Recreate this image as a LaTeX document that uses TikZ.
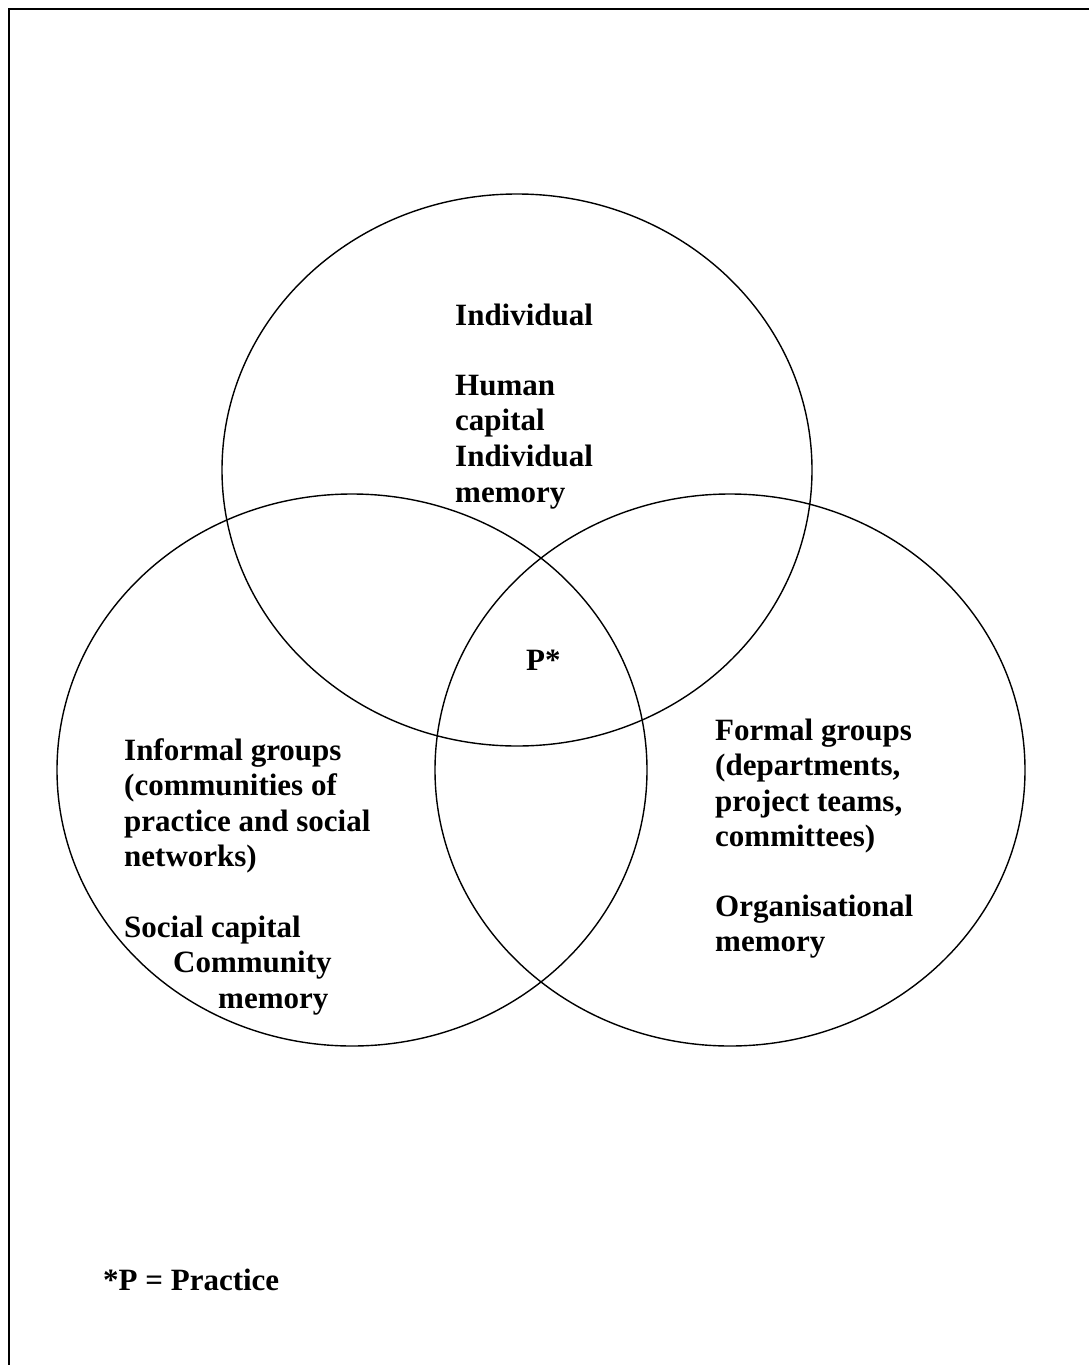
\documentclass[tikz,border=0pt]{standalone}
\usepackage{fontspec}
\setmainfont{Liberation Serif}
\usetikzlibrary{shapes.geometric}
\begin{document}
\begin{tikzpicture}[x=1pt,y=-1pt,
  ring/.style={draw, ellipse, line width=1.4pt, inner sep=0pt,
    minimum width=590pt, minimum height=552pt},
  label/.style={anchor=base west, inner sep=0pt,
    font=\fontsize{31}{35}\selectfont\bfseries}]
\useasboundingbox (0,0) rectangle (1089,1365);
% page frame (left and top edges)
\draw[line width=2pt] (9,1380) |- (1100,9);

% the three overlapping domains
\node[ring] (indiv) at (517,470) {};
\node[ring] (informal) at (352,770) {};
\node[ring] (formal) at (730,770) {};

% individual
\node[label] (t1) at (455,325) {Individual};
\node[label] (t2) at (455,395) {Human};
\node[label] (t3) at (455,430.5) {capital};
\node[label] (t4) at (455,466) {Individual};
\node[label] (t5) at (455,502) {memory};

% informal groups
\node[label] (l1) at (124,760) {Informal groups};
\node[label] (l2) at (124,795.5) {(communities of};
\node[label] (l3) at (124,831) {practice and social};
\node[label] (l4) at (124,866.5) {networks)};
\node[label] (l5) at (124,937) {Social capital};
\node[label] (l6) at (173,972.5) {Community};
\node[label] (l7) at (218,1008) {memory};

% formal groups
\node[label] (r1) at (715,740) {Formal groups};
\node[label] (r2) at (715,775.5) {(departments,};
\node[label] (r3) at (715,811) {project teams,};
\node[label] (r4) at (715,846.5) {committees)};
\node[label] (r5) at (715,916) {Organisational};
\node[label] (r6) at (715,951) {memory};

% centre and key
\node[label] (p) at (526,670) {P*};
\node[label] (key) at (103,1290) {*P = Practice};
\end{tikzpicture}
\end{document}
